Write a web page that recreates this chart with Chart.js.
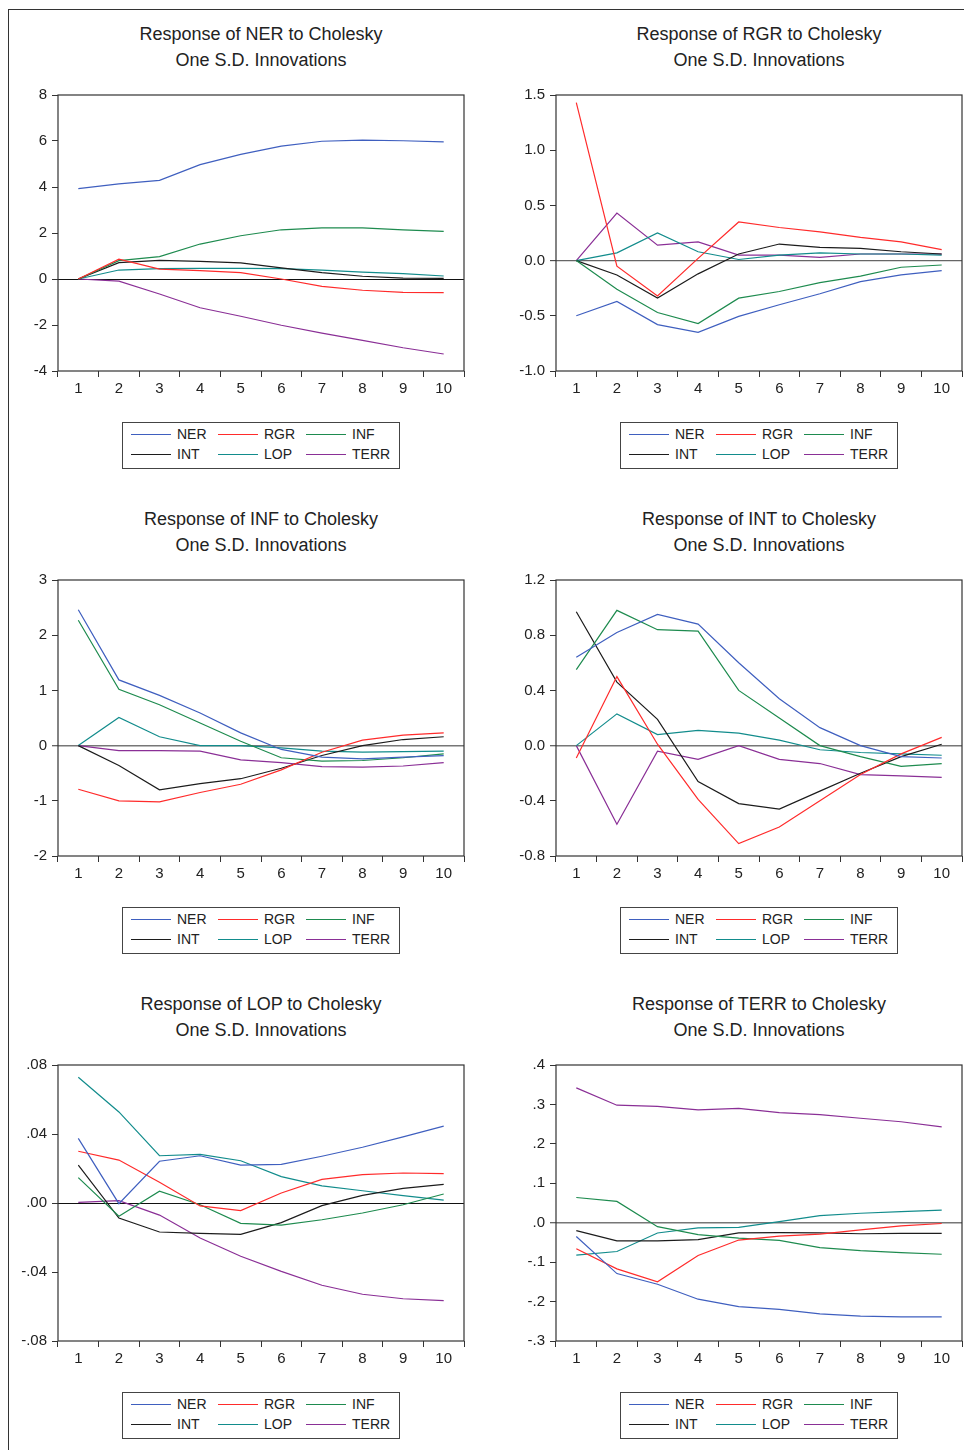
<!DOCTYPE html>
<html>
<head>
<meta charset="utf-8">
<script src="https://cdn.jsdelivr.net/npm/chart.js@4.4.1/dist/chart.umd.min.js"></script>
<style>
  body { margin: 0; background: #fff; width: 964px; height: 1450px; overflow: hidden; position: relative;
         font-family: 'Liberation Sans', Arial, sans-serif; }
  .frame { position: absolute; left: 8px; top: 9px; width: 1000px; height: 1500px; border: 1px solid #333; }
  .title { position: absolute; width: 406px; text-align: center; font-size: 18px; line-height: 26px; color: #222; }
  .box { position: absolute; width: 466px; height: 321px; }
  .legend { position: absolute; width: 276px; height: 45px; border: 1px solid #444; }
  .legend .sw { position: absolute; width: 40px; height: 1px; }
  .legend .lb { position: absolute; font-size: 14px; line-height: 16px; color: #222; }
</style>
</head>
<body>
<div class="frame"></div>
<script>
// horizon steps and shock names (legend order)
const steps = ['1', '2', '3', '4', '5', '6', '7', '8', '9', '10'];
const shocks = ['NER', 'RGR', 'INF', 'INT', 'LOP', 'TERR'];
const shockColors = ['#3f5fbf', '#ff2b2b', '#1e8b4f', '#1c1c1c', '#128c8c', '#8a2f96'];

// each response: one row per shock, same order as `shocks`
const nerResp = [
  [3.93, 4.14, 4.29, 4.97, 5.42, 5.78, 5.99, 6.04, 6.01, 5.96],
  [0, 0.86, 0.43, 0.36, 0.28, 0.00, -0.32, -0.49, -0.58, -0.59],
  [0, 0.80, 0.97, 1.52, 1.88, 2.14, 2.22, 2.22, 2.14, 2.07],
  [0, 0.71, 0.81, 0.77, 0.70, 0.48, 0.28, 0.12, 0.04, 0.03],
  [0, 0.39, 0.45, 0.46, 0.46, 0.45, 0.39, 0.30, 0.23, 0.13],
  [0, -0.09, -0.65, -1.25, -1.62, -2.01, -2.35, -2.67, -2.99, -3.26]
];
const rgrResp = [
  [-0.50, -0.37, -0.58, -0.65, -0.505, -0.40, -0.30, -0.19, -0.13, -0.09],
  [1.43, -0.05, -0.32, 0.02, 0.35, 0.30, 0.26, 0.21, 0.17, 0.10],
  [0, -0.26, -0.47, -0.57, -0.34, -0.28, -0.20, -0.14, -0.06, -0.04],
  [0, -0.13, -0.34, -0.12, 0.06, 0.15, 0.12, 0.11, 0.08, 0.06],
  [0, 0.07, 0.25, 0.08, 0.01, 0.05, 0.07, 0.06, 0.06, 0.05],
  [0, 0.43, 0.14, 0.17, 0.05, 0.05, 0.03, 0.06, 0.06, 0.06]
];
const infResp = [
  [2.46, 1.19, 0.91, 0.59, 0.23, -0.07, -0.21, -0.24, -0.21, -0.18],
  [-0.79, -1.00, -1.02, -0.85, -0.70, -0.44, -0.12, 0.10, 0.19, 0.23],
  [2.27, 1.02, 0.74, 0.41, 0.08, -0.22, -0.28, -0.27, -0.22, -0.15],
  [0, -0.36, -0.80, -0.69, -0.60, -0.41, -0.18, 0.00, 0.11, 0.16],
  [0, 0.51, 0.16, 0.00, 0.00, -0.04, -0.10, -0.12, -0.11, -0.10],
  [0, -0.09, -0.09, -0.10, -0.26, -0.31, -0.38, -0.39, -0.37, -0.31]
];
const intResp = [
  [0.64, 0.82, 0.95, 0.88, 0.60, 0.34, 0.13, 0.00, -0.08, -0.09],
  [-0.09, 0.50, 0.01, -0.39, -0.71, -0.59, -0.40, -0.21, -0.06, 0.06],
  [0.55, 0.98, 0.84, 0.83, 0.40, 0.20, 0.00, -0.08, -0.15, -0.13],
  [0.97, 0.46, 0.19, -0.26, -0.42, -0.46, -0.33, -0.20, -0.08, 0.01],
  [0, 0.23, 0.08, 0.11, 0.09, 0.04, -0.03, -0.05, -0.06, -0.07],
  [0, -0.57, -0.04, -0.10, 0.00, -0.10, -0.13, -0.21, -0.22, -0.23]
];
const lopResp = [
  [0.0375, -0.0004, 0.0242, 0.0274, 0.0220, 0.0224, 0.0271, 0.0323, 0.0383, 0.0446],
  [0.0300, 0.0249, 0.0120, -0.0017, -0.0044, 0.0058, 0.0137, 0.0164, 0.0174, 0.0170],
  [0.0147, -0.0077, 0.0068, -0.0010, -0.0118, -0.0128, -0.0097, -0.0058, -0.0010, 0.0052],
  [0.0220, -0.0087, -0.0168, -0.0176, -0.0182, -0.0114, -0.0015, 0.0044, 0.0085, 0.0108],
  [0.0729, 0.0528, 0.0274, 0.0282, 0.0245, 0.0153, 0.0099, 0.0071, 0.0043, 0.0017],
  [0.0004, 0.0014, -0.0070, -0.0203, -0.0309, -0.0396, -0.0477, -0.0529, -0.0555, -0.0566]
];
const terrResp = [
  [-0.035, -0.129, -0.156, -0.194, -0.213, -0.220, -0.231, -0.237, -0.239, -0.239],
  [-0.066, -0.117, -0.150, -0.083, -0.044, -0.034, -0.029, -0.018, -0.008, -0.002],
  [0.064, 0.054, -0.010, -0.030, -0.039, -0.045, -0.063, -0.071, -0.076, -0.080],
  [-0.020, -0.046, -0.046, -0.043, -0.026, -0.025, -0.026, -0.028, -0.027, -0.027],
  [-0.082, -0.073, -0.026, -0.013, -0.012, 0.003, 0.018, 0.024, 0.028, 0.032],
  [0.342, 0.298, 0.295, 0.286, 0.290, 0.279, 0.274, 0.265, 0.256, 0.243]
];

// y tick labels as printed
const nerTicks = ['-4', '-2', '0', '2', '4', '6', '8'];
const rgrTicks = ['-1.0', '-0.5', '0.0', '0.5', '1.0', '1.5'];
const infTicks = ['-2', '-1', '0', '1', '2', '3'];
const intTicks = ['-0.8', '-0.4', '0.0', '0.4', '0.8', '1.2'];
const lopTicks = ['-.08', '-.04', '.00', '.04', '.08'];
const terrTicks = ['-.3', '-.2', '-.1', '.0', '.1', '.2', '.3', '.4'];

const panels = [
  { name: 'NER', data: nerResp, ticks: nerTicks, zero: '#111', zeroW: 1 },
  { name: 'RGR', data: rgrResp, ticks: rgrTicks, zero: '#666', zeroW: 1.3 },
  { name: 'INF', data: infResp, ticks: infTicks, zero: '#777', zeroW: 1.5 },
  { name: 'INT', data: intResp, ticks: intTicks, zero: '#777', zeroW: 1.5 },
  { name: 'LOP', data: lopResp, ticks: lopTicks, zero: '#111', zeroW: 1 },
  { name: 'TERR', data: terrResp, ticks: terrTicks, zero: '#777', zeroW: 1.5 }
];

const FONT = "'Liberation Sans', Arial, sans-serif";

// frame around the plot area
const boxPlugin = {
  id: 'plotBox',
  afterDraw(chart) {
    const a = chart.chartArea, ctx = chart.ctx;
    ctx.save();
    ctx.strokeStyle = '#333';
    ctx.lineWidth = 1.2;
    ctx.strokeRect(a.left, a.top, a.right - a.left, a.bottom - a.top);
    ctx.restore();
  }
};

panels.forEach((p, i) => {
  const col = i % 2, row = Math.floor(i / 2);
  const bx = col === 0 ? 58 : 556;
  const by = 95 + 485 * row;

  const title = document.createElement('div');
  title.className = 'title';
  title.style.left = bx + 'px';
  title.style.top = (by - 74) + 'px';
  title.innerHTML = 'Response of ' + p.name + ' to Cholesky<br>One S.D. Innovations';
  document.body.appendChild(title);

  const wrap = document.createElement('div');
  wrap.className = 'box';
  wrap.style.left = (bx - 58) + 'px';
  wrap.style.top = (by - 15) + 'px';
  const cv = document.createElement('canvas');
  cv.width = 466; cv.height = 321;
  wrap.appendChild(cv);
  document.body.appendChild(wrap);

  const tickVals = p.ticks.map(t => parseFloat(t));

  new Chart(cv, {
    type: 'line',
    data: {
      labels: steps,
      datasets: shocks.map((s, k) => ({
        label: s,
        data: p.data[k],
        borderColor: shockColors[k],
        borderWidth: 1.2,
        pointRadius: 0,
        tension: 0,
        fill: false
      }))
    },
    options: {
      responsive: false,
      animation: false,
      layout: { padding: { top: 15, left: 0, right: 2, bottom: 0 } },
      plugins: { legend: { display: false }, tooltip: { enabled: false } },
      scales: {
        x: {
          type: 'category',
          offset: true,
          border: { display: false },
          grid: { offset: true, drawOnChartArea: false, drawTicks: true, tickLength: 6, color: '#333', lineWidth: 1 },
          ticks: { color: '#222', font: { family: FONT, size: 15 }, padding: 3, maxRotation: 0, autoSkip: false },
          afterFit: s => { s.height = 30; }
        },
        y: {
          min: tickVals[0],
          max: tickVals[tickVals.length - 1],
          border: { display: false },
          afterBuildTicks: s => { s.ticks = tickVals.map(v => ({ value: v })); },
          grid: {
            drawOnChartArea: true,
            tickLength: 6,
            tickColor: '#333',
            tickWidth: 1,
            color: c => (c.tick && Math.abs(c.tick.value) < 1e-9) ? p.zero : 'rgba(0,0,0,0)',
            lineWidth: c => (c.tick && Math.abs(c.tick.value) < 1e-9) ? p.zeroW : 1
          },
          ticks: {
            color: '#222',
            font: { family: FONT, size: 15 },
            padding: 5,
            callback: v => {
              const k = tickVals.findIndex(t => Math.abs(t - v) < 1e-9);
              return k >= 0 ? p.ticks[k] : '';
            }
          },
          afterFit: s => { s.width = 58; }
        }
      }
    },
    plugins: [boxPlugin]
  });

  // legend box, 3 columns x 2 rows
  const lg = document.createElement('div');
  lg.className = 'legend';
  lg.style.left = (bx + 64) + 'px';
  lg.style.top = (by + 327) + 'px';
  const colX = [8, 95, 183];
  const rowY = [11, 31];
  shocks.forEach((s, k) => {
    const cx = colX[k % 3], cy = rowY[Math.floor(k / 3)];
    const sw = document.createElement('div');
    sw.className = 'sw';
    sw.style.backgroundColor = shockColors[k];
    sw.style.left = cx + 'px';
    sw.style.top = cy + 'px';
    lg.appendChild(sw);
    const lb = document.createElement('div');
    lb.className = 'lb';
    lb.textContent = s;
    lb.style.left = (cx + 46) + 'px';
    lb.style.top = (cy - 8) + 'px';
    lg.appendChild(lb);
  });
  document.body.appendChild(lg);
});
</script>
</body>
</html>
